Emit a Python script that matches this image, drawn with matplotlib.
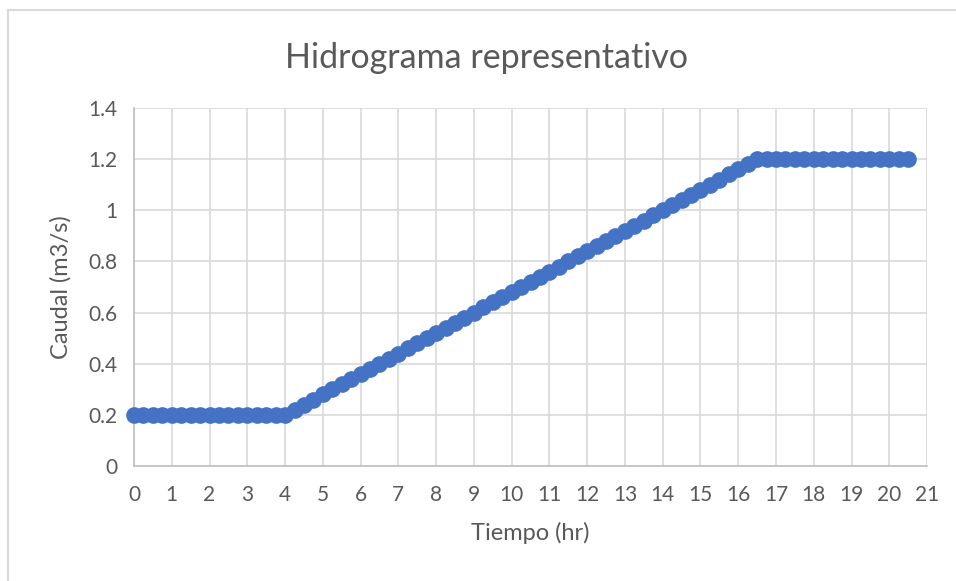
import matplotlib
matplotlib.use("Agg")
import matplotlib.pyplot as plt
from matplotlib.lines import Line2D

# Hidrograma representativo (paso de 0.25 hr)
tiempo = [
    0, 0.25, 0.5, 0.75, 1, 1.25, 1.5, 1.75, 2, 2.25, 2.5, 2.75,
    3, 3.25, 3.5, 3.75, 4, 4.25, 4.5, 4.75, 5, 5.25, 5.5, 5.75,
    6, 6.25, 6.5, 6.75, 7, 7.25, 7.5, 7.75, 8, 8.25, 8.5, 8.75,
    9, 9.25, 9.5, 9.75, 10, 10.25, 10.5, 10.75, 11, 11.25, 11.5, 11.75,
    12, 12.25, 12.5, 12.75, 13, 13.25, 13.5, 13.75, 14, 14.25, 14.5, 14.75,
    15, 15.25, 15.5, 15.75, 16, 16.25, 16.5, 16.75, 17, 17.25, 17.5, 17.75,
    18, 18.25, 18.5, 18.75, 19, 19.25, 19.5, 19.75, 20, 20.25, 20.5,
]
caudal = [
    0.2, 0.2, 0.2, 0.2, 0.2, 0.2, 0.2, 0.2, 0.2, 0.2, 0.2, 0.2,
    0.2, 0.2, 0.2, 0.2, 0.2, 0.22, 0.24, 0.26, 0.28, 0.30, 0.32, 0.34,
    0.36, 0.38, 0.40, 0.42, 0.44, 0.46, 0.48, 0.50, 0.52, 0.54, 0.56, 0.58,
    0.60, 0.62, 0.64, 0.66, 0.68, 0.70, 0.72, 0.74, 0.76, 0.78, 0.80, 0.82,
    0.84, 0.86, 0.88, 0.90, 0.92, 0.94, 0.96, 0.98, 1.00, 1.02, 1.04, 1.06,
    1.08, 1.10, 1.12, 1.14, 1.16, 1.18, 1.20, 1.2, 1.2, 1.2, 1.2, 1.2,
    1.2, 1.2, 1.2, 1.2, 1.2, 1.2, 1.2, 1.2, 1.2, 1.2, 1.2,
]
xticks = list(range(0, 22))
yticks = [0, 0.2, 0.4, 0.6, 0.8, 1, 1.2, 1.4]
ytick_labels = ["0", "0.2", "0.4", "0.6", "0.8", "1", "1.2", "1.4"]

plt.rcParams['font.family'] = ['Lato', 'DejaVu Sans']
txt = '#595959'
grid = '#D9D9D9'

fig = plt.figure(figsize=(9.56, 5.81), dpi=100)
ax = fig.add_axes([0.1402, 0.1979, 0.8295, 0.6162])

ax.plot(tiempo, caudal, color='#4472C4', lw=3, marker='o',
        markersize=12, markeredgewidth=0, zorder=3, clip_on=False)

ax.set_xlim(0, 21)
ax.set_ylim(0, 1.4)
ax.set_xticks(xticks)
ax.set_yticks(yticks)
ax.set_yticklabels(ytick_labels)
ax.grid(True, color=grid, lw=1.2)
ax.set_axisbelow(True)
ax.tick_params(axis='x', length=0, labelsize=15, colors=txt, pad=14)
ax.tick_params(axis='y', length=0, labelsize=15, colors=txt, pad=12)

for s in ['top', 'right']:
    ax.spines[s].set_visible(False)
for s in ['left', 'bottom']:
    ax.spines[s].set_color('#BFBFBF')
    ax.spines[s].set_linewidth(1.2)

ax.set_xlabel('Tiempo (hr)', fontsize=17, color=txt, labelpad=12)
ax.set_ylabel('Caudal (m3/s)', fontsize=17, color=txt, labelpad=12)
fig.text(0.509, 0.9, 'Hidrograma representativo', fontsize=24.5,
         color=txt, ha='center', va='center')

# borde del area del grafico (solo visible arriba e izquierda)
fig.add_artist(Line2D([0.008, 0.008], [0, 0.983], transform=fig.transFigure,
                      color='#D9D9D9', lw=1.5))
fig.add_artist(Line2D([0.008, 1.0], [0.983, 0.983], transform=fig.transFigure,
                      color='#D9D9D9', lw=1.5))

fig.savefig('out.png', dpi=100)
